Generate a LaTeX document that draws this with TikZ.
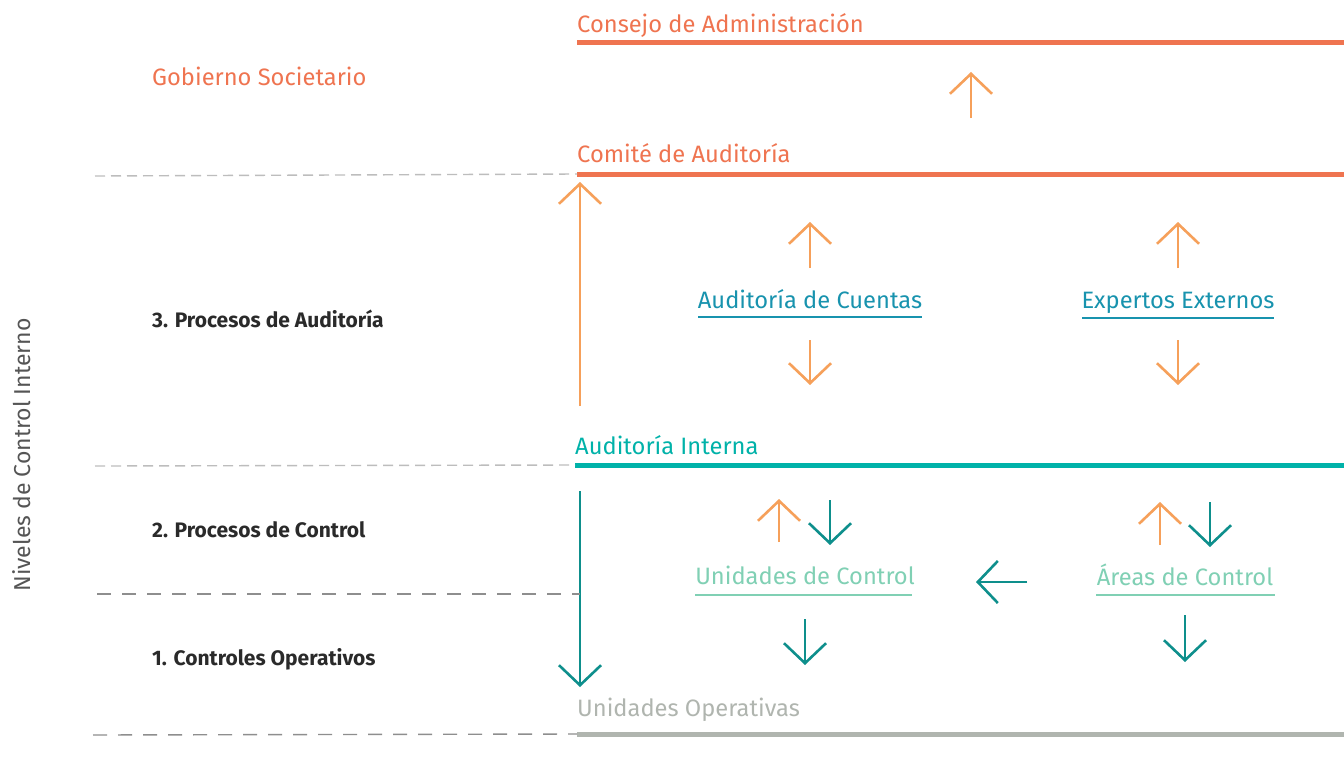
\documentclass[tikz,border=0pt]{standalone}
\usepackage{fontspec}
\setmainfont{Fira Sans}
\usetikzlibrary{arrows.meta}
\definecolor{redor}{HTML}{EF7450}
\definecolor{orar}{HTML}{F6A05A}
\definecolor{bluet}{HTML}{1893AE}
\definecolor{tealline}{HTML}{00B2A9}
\definecolor{tealar}{HTML}{0E8F8C}
\definecolor{mint}{HTML}{80D0B4}
\definecolor{grayop}{HTML}{B0B5AF}
\definecolor{dashg}{HTML}{BDBDBD}
\definecolor{dashd}{HTML}{8E8E8E}
\definecolor{darktxt}{HTML}{2A2A2A}
\tikzset{
  barb/.style={-{Straight Barb[length=20pt,width=42pt]}, line width=2.6pt},
  oarrow/.style={barb, draw=orar},
  tarrow/.style={barb, draw=tealar},
  levelline/.style={line width=5pt},
  sepdash/.style={draw=dashg, line width=1.4pt, dash pattern=on 10pt off 6pt},
  sepdash2/.style={draw=dashd, line width=1.4pt, dash pattern=on 14pt off 11pt},
  lbl/.style={inner sep=0pt, anchor=base, font=\fontsize{23.7}{28}\selectfont},
  levlbl/.style={inner sep=0pt, anchor=base west, text=darktxt, font=\fontsize{21}{25}\selectfont\bfseries},
  uline/.style={line width=2.4pt}
}
\begin{document}
\begin{tikzpicture}[x=1pt,y=-1pt]
\useasboundingbox (0,0) rectangle (1344,768);
\fill[white] (0,0) rectangle (1344,768);

% vertical title
\node[inner sep=0pt, rotate=90, text=darktxt!80, font=\fontsize{23}{27}\selectfont] (niv) at (22,455) {Niveles de Control Interno};

% Gobierno
\node[lbl, anchor=base west, text=redor] (gob) at (152,85) {Gobierno Societario};

% Consejo
\node[lbl, anchor=base west, text=redor] (cons) at (577,33) {Consejo de Administración};
\coordinate (consL) at (577,43);
\coordinate (consR) at (1344,43);
\draw[levelline, redor] (consL) -- (consR);
\coordinate (a1s) at (971,118); \coordinate (a1e) at (971,72);
\draw[oarrow] (a1s) -- (a1e);

% Comite
\node[lbl, anchor=base west, text=redor] (comite) at (577,162) {Comité de Auditoría};
\coordinate (comL) at (577,174);
\coordinate (comR) at (1344,174);
\draw[levelline, redor] (comL) -- (comR);
\coordinate (d1) at (95,176);
\draw[sepdash] (d1) -- (comL);

% 3 Procesos de auditoria
\node[levlbl] (l3) at (152,327) {3. Procesos de Auditoría};
\coordinate (bigUs) at (580,406); \coordinate (bigUe) at (580,182);
\draw[oarrow] (bigUs) -- (bigUe);

\node[lbl, text=bluet] (ac) at (810,308) {Auditoría de Cuentas};
\coordinate (acL) at (698,317); \coordinate (acR) at (922,317);
\draw[uline, bluet] (acL) -- (acR);
\node[lbl, text=bluet] (ee) at (1178,308) {Expertos Externos};
\coordinate (eeL) at (1082,318); \coordinate (eeR) at (1274,318);
\draw[uline, bluet] (eeL) -- (eeR);

\coordinate (acu1) at (810,268); \coordinate (acu2) at (810,222);
\draw[oarrow] (acu1) -- (acu2);
\coordinate (acd1) at (810,340); \coordinate (acd2) at (810,385);
\draw[oarrow] (acd1) -- (acd2);
\coordinate (eeu1) at (1178,268); \coordinate (eeu2) at (1178,222);
\draw[oarrow] (eeu1) -- (eeu2);
\coordinate (eed1) at (1178,340); \coordinate (eed2) at (1178,385);
\draw[oarrow] (eed1) -- (eed2);

% Auditoria interna
\node[lbl, anchor=base west, text=tealline] (ai) at (575,454) {Auditoría Interna};
\coordinate (aiL) at (575,465);
\coordinate (aiR) at (1344,465);
\draw[levelline, tealline] (aiL) -- (aiR);
\coordinate (d2) at (95,466);
\draw[sepdash] (d2) -- (aiL);

% 2 Procesos de control
\node[levlbl] (l2) at (152,537) {2. Procesos de Control};
\coordinate (bigDs) at (580,491); \coordinate (bigDe) at (580,687);
\draw[tarrow] (bigDs) -- (bigDe);
\coordinate (d3) at (97,594); \coordinate (d3e) at (580,594);
\draw[sepdash2] (d3) -- (d3e);

\node[lbl, text=mint] (uc) at (805,584) {Unidades de Control};
\coordinate (ucL) at (695,595); \coordinate (ucR) at (912,595);
\draw[uline, mint] (ucL) -- (ucR);
\node[lbl, text=mint] (arc) at (1185,585) {Áreas de Control};
\coordinate (arcL) at (1096,595); \coordinate (arcR) at (1275,595);
\draw[uline, mint] (arcL) -- (arcR);

\coordinate (ucu1) at (779,542); \coordinate (ucu2) at (779,499);
\draw[oarrow] (ucu1) -- (ucu2);
\coordinate (ucd1) at (830,500); \coordinate (ucd2) at (830,545);
\draw[tarrow] (ucd1) -- (ucd2);
\coordinate (aru1) at (1160,545); \coordinate (aru2) at (1160,502);
\draw[oarrow] (aru1) -- (aru2);
\coordinate (ard1) at (1210,502); \coordinate (ard2) at (1210,547);
\draw[tarrow] (ard1) -- (ard2);

\coordinate (la1) at (1027,582); \coordinate (la2) at (976,582);
\draw[tarrow] (la1) -- (la2);

\coordinate (ucdd1) at (805,619); \coordinate (ucdd2) at (805,665);
\draw[tarrow] (ucdd1) -- (ucdd2);
\coordinate (ardd1) at (1185,615); \coordinate (ardd2) at (1185,662);
\draw[tarrow] (ardd1) -- (ardd2);

% 1 Controles operativos
\node[levlbl] (l1) at (152,665) {1. Controles Operativos};
\node[lbl, anchor=base west, text=grayop] (uo) at (577,716) {Unidades Operativas};
\coordinate (uoL) at (577,734);
\coordinate (uoR) at (1344,734);
\draw[levelline, grayop] (uoL) -- (uoR);
\coordinate (d4) at (93,735);
\draw[sepdash2] (d4) -- (uoL);
\end{tikzpicture}
\end{document}
